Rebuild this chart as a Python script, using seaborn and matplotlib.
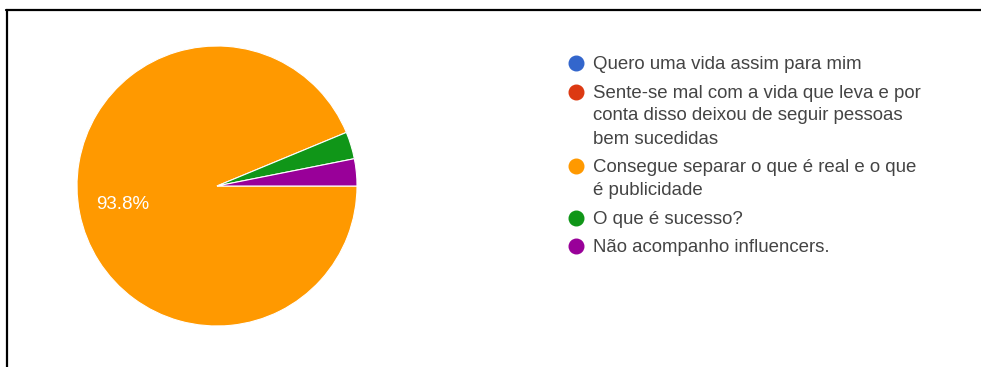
import matplotlib
matplotlib.use("Agg")
import matplotlib.pyplot as plt
import seaborn as sns
from matplotlib.lines import Line2D

sns.set_theme(style="white")
plt.rcParams['font.family'] = ['Liberation Sans', 'DejaVu Sans']

categories = [
    "Quero uma vida assim para mim",
    "Sente-se mal com a vida que leva e por\nconta disso deixou de seguir pessoas\nbem sucedidas",
    "Consegue separar o que é real e o que\né publicidade",
    "O que é sucesso?",
    "Não acompanho influencers.",
]
counts = [0, 0, 30, 1, 1]
colors = ["#3366cc", "#dc3912", "#ff9900", "#109618", "#990099"]

W, H = 981, 367
fig = plt.figure(figsize=(W / 100, H / 100), dpi=100)
fig.patch.set_facecolor("white")

# pie axes: center (217,186), radius 140
r = 140
cx, cy = 217, 186
ax = fig.add_axes([(cx - r) / W, 1 - (cy + r) / H, 2 * r / W, 2 * r / H])

def fmt(p):
    return f"{p:.1f}%" if p > 10 else ""

wedges, texts, autotexts = ax.pie(
    counts, colors=colors, startangle=0, counterclock=False,
    autopct=fmt, pctdistance=0.69,
    wedgeprops=dict(edgecolor="white", linewidth=0.8),
    textprops=dict(color="white", fontsize=13.5),
)
ax.set_aspect("equal")
ax.set_xlim(-1, 1)
ax.set_ylim(-1, 1)

# legend laid out like the Google Forms legend (marker aligned with first line)
lax = fig.add_axes([0, 0, 1, 1])
lax.set_xlim(0, W)
lax.set_ylim(H, 0)
lax.axis("off")
y = 63.0
line_h = 23.0
gap = 5.5
for label, c in zip(categories, colors):
    lax.plot([576], [y], marker="o", markersize=10.5, color=c, linestyle="none")
    for i, line in enumerate(label.split("\n")):
        lax.text(593, y + i * line_h + 1.5, line, fontsize=13.4, color="#444444",
                 va="center", ha="left")
    y += len(label.split("\n")) * line_h + gap

# frame lines (screenshot border)
fig.add_artist(Line2D([6 / W, 1], [1 - 9.5 / H, 1 - 9.5 / H], color="black", lw=1.6,
                      transform=fig.transFigure))
fig.add_artist(Line2D([6.5 / W, 6.5 / W], [0, 1 - 9.5 / H], color="black", lw=1.6,
                      transform=fig.transFigure))

fig.savefig("out.png", dpi=100, facecolor="white")
